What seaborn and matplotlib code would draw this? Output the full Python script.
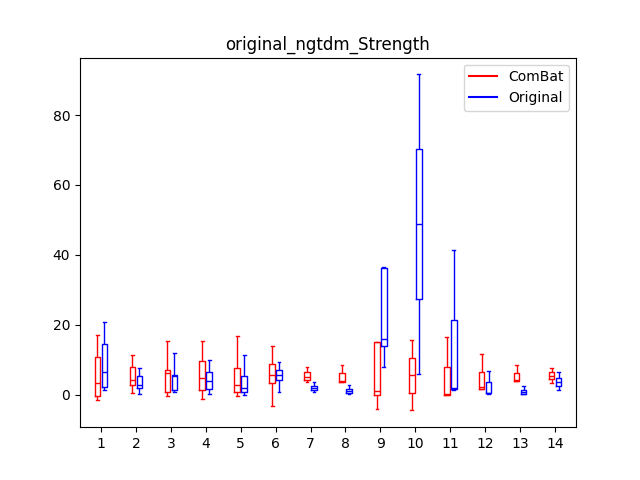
import numpy as np
import pandas as pd
import matplotlib
matplotlib.use("Agg")
import matplotlib.pyplot as plt
from matplotlib.lines import Line2D
import seaborn as sns

# ---------------------------------------------------------------------------
# Box statistics (whisker low, Q1, median, Q3, whisker high)
# ---------------------------------------------------------------------------

groups = [str(i) for i in range(1, 15)]

combat_lo  = [-1.5, 0.5, -0.4, -1.0, -0.4, -3.2, 3.6, 3.7, -4.1, -4.4, 0.1, 1.6, 3.9, 3.3]
combat_q1  = [-0.4, 3.0, 0.8, 1.3, 1.0, 3.3, 4.2, 3.8, 0.0, 0.6, 0.1, 1.8, 4.1, 4.5]
combat_med = [3.4, 4.3, 6.2, 5.0, 2.8, 5.6, 5.2, 4.1, 1.2, 5.7, 0.4, 2.4, 4.4, 5.5]
combat_q3  = [11.0, 7.9, 7.1, 9.6, 7.6, 9.0, 6.5, 6.2, 15.1, 10.5, 8.1, 6.7, 6.2, 6.5]
combat_hi  = [17.1, 11.3, 15.4, 15.4, 16.8, 13.9, 8.0, 8.6, 15.2, 15.6, 16.5, 11.6, 8.6, 7.6]

orig_lo  = [1.4, 0.2, 0.8, 0.2, -0.1, 1.0, 1.0, 0.4, 7.9, 5.9, 1.5, 0.4, 0.2, 1.3]
orig_q1  = [2.2, 1.9, 1.3, 1.6, 0.8, 4.2, 1.3, 0.5, 13.9, 27.3, 1.7, 0.5, 0.3, 2.6]
orig_med = [6.6, 2.8, 5.4, 3.9, 1.9, 5.6, 1.9, 1.1, 15.9, 48.8, 2.1, 0.7, 0.8, 3.8]
orig_q3  = [14.5, 5.3, 5.8, 6.5, 5.3, 7.1, 2.7, 1.6, 36.2, 70.2, 21.5, 3.6, 1.4, 4.9]
orig_hi  = [20.9, 7.6, 12.0, 10.0, 11.4, 9.4, 3.6, 2.9, 36.6, 91.6, 41.3, 6.8, 2.5, 6.5]

COLORS = {"ComBat": "red", "Original": "blue"}

# five points per box reproduce the quartiles exactly
rows = []
for label, stats in [("ComBat", (combat_lo, combat_q1, combat_med, combat_q3, combat_hi)),
                     ("Original", (orig_lo, orig_q1, orig_med, orig_q3, orig_hi))]:
    for i, g in enumerate(groups):
        for s in stats:
            rows.append({"group": g, "value": s[i], "harmonization": label})
df = pd.DataFrame(rows)

# ---------------------------------------------------------------------------
# Plot
# ---------------------------------------------------------------------------

fig, ax = plt.subplots(figsize=(6.4, 4.8), dpi=100)
sns.boxplot(
    data=df, x="group", y="value", hue="harmonization", order=groups,
    palette=COLORS, fill=False, showfliers=False, whis=(0, 100),
    width=0.4, gap=0.2, linewidth=1, legend=False, ax=ax,
)
ax.set_title("original_ngtdm_Strength")
ax.set_xlabel("")
ax.set_ylabel("")
ax.set_xlim(-0.6, 13.6)

handles = [Line2D([], [], color=c, lw=1.5) for c in COLORS.values()]
ax.legend(handles, list(COLORS.keys()), loc="upper right")

plt.savefig("out.png", dpi=100)
plt.close()
